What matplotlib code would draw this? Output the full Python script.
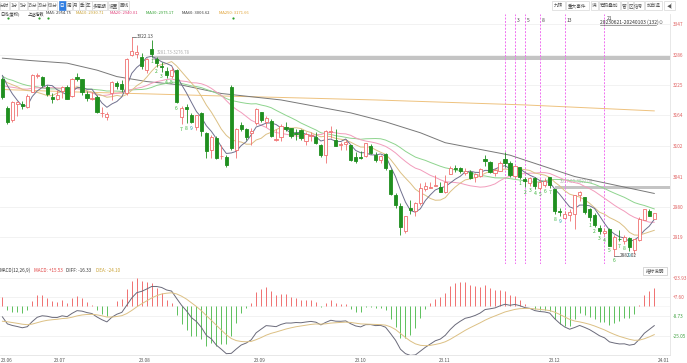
import matplotlib
matplotlib.use("Agg")
import matplotlib.pyplot as plt
from matplotlib.patches import Rectangle
import numpy as np
import pandas as pd

# ---- data (上证指数 daily, 2023-06-21 .. 2024-01-03) ----
opens = [3238, 3179, 3155, 3186, 3187, 3180, 3210, 3243, 3241, 3222,
         3201, 3197, 3212, 3221, 3202, 3242, 3237, 3207, 3197, 3200,
         3168, 3160, 3208, 3230, 3228, 3209, 3285, 3287, 3282, 3256,
         3297, 3277, 3264, 3253, 3244, 3255, 3160, 3181, 3165, 3140,
         3168, 3128, 3094, 3118, 3082, 3081, 3221, 3094, 3145, 3136,
         3128, 3148, 3170, 3150, 3153, 3115, 3121, 3140, 3139, 3129,
         3135, 3112, 3122, 3120, 3104, 3084, 3131, 3114, 3104, 3107,
         3104, 3080, 3080, 3083, 3103, 3085, 3075, 3087, 3055, 3003,
         2981, 2932, 2977, 2972, 2987, 3016, 3017, 3022, 3020, 3010,
         3046, 3058, 3059, 3048, 3050, 3040, 3043, 3076, 3070, 3049,
         3053, 3077, 3068, 3042, 3060, 3036, 3028, 3039, 3017, 3023,
         3040, 3016, 2972, 2958, 2964, 2966, 3003, 3000, 2975, 2964,
         2938, 2928, 2935, 2895, 2916, 2911, 2917, 2893, 2914, 2953,
         2972, 2956]
highs = [3242, 3183, 3192, 3192, 3192, 3206, 3247, 3249, 3244, 3226,
         3208, 3215, 3224, 3226, 3240, 3250, 3238, 3213, 3210, 3204,
         3180, 3170, 3234, 3234, 3236, 3280, 3322.13, 3305, 3290, 3280,
         3315, 3282, 3272, 3262, 3262, 3258, 3183, 3187, 3168, 3165,
         3170, 3130, 3124, 3122, 3104, 3084, 3225, 3138, 3150, 3139,
         3138, 3178, 3171, 3162, 3157, 3136, 3146, 3151, 3139, 3136,
         3136, 3130, 3130, 3131, 3106, 3134, 3143, 3137, 3110, 3114,
         3105, 3091, 3093, 3108, 3106, 3090, 3085, 3088, 3057, 3007,
         2987, 2962, 2993, 2989, 3028, 3031, 3030, 3045, 3031, 3044,
         3062, 3064, 3061, 3059, 3054, 3048, 3058, 3084, 3072, 3059,
         3072, 3090, 3072, 3065, 3061, 3040, 3040, 3041, 3037, 3038,
         3040, 3016, 2978, 2971, 2976, 3004, 3012, 3000, 2977, 2967,
         2944, 2938, 2937, 2923, 2933, 2924, 2919, 2916, 2960, 2976,
         2976, 2968]
lows = [3196, 3146, 3150, 3162, 3177, 3178, 3210, 3240, 3222, 3203,
        3189, 3195, 3199, 3196, 3200, 3234, 3205, 3192, 3195, 3169,
        3161, 3154, 3195, 3217, 3210, 3205, 3283, 3280, 3258, 3250,
        3281.73, 3261, 3251, 3240, 3240, 3188, 3146, 3148, 3148, 3134,
        3122, 3078, 3078, 3076, 3077, 3060, 3095, 3078, 3132, 3115,
        3105, 3145, 3150, 3141, 3121, 3113, 3112, 3133, 3119, 3115,
        3114, 3104, 3112, 3107, 3080, 3068, 3118, 3102, 3095, 3095,
        3072, 3068, 3076, 3081, 3086, 3070, 3068, 3055, 3003, 2977,
        2923, 2927, 2966, 2962, 2983, 3011, 3017, 3021, 3009, 3007,
        3046, 3051, 3048, 3045, 3037, 3030, 3041, 3063, 3048, 3043,
        3053, 3060, 3041, 3038, 3037, 3019, 3022, 3016, 3014, 3020,
        3018, 2965, 2961, 2957, 2951, 2936, 2992, 2966, 2952, 2940,
        2926, 2923, 2902, 2882.02, 2911, 2906, 2891, 2886, 2911, 2953,
        2961, 2955]
closes = [3200, 3151, 3190, 3190, 3183, 3202, 3245, 3246, 3225, 3206,
          3197, 3204, 3221, 3197, 3238, 3238, 3210, 3198, 3199, 3170,
          3168, 3166, 3232, 3223, 3217, 3277, 3294, 3291, 3263, 3278,
          3288, 3269, 3261, 3245, 3256, 3190, 3178, 3176, 3150, 3164,
          3132, 3093, 3120, 3078, 3082, 3064, 3098, 3136, 3137, 3120,
          3133, 3177, 3154, 3158, 3122, 3117, 3143, 3137, 3123, 3127,
          3118, 3126, 3124, 3109, 3085, 3132, 3131, 3102, 3107, 3110,
          3075, 3073, 3079, 3108, 3088, 3074, 3083, 3059, 3005, 2983,
          2939, 2962, 2974, 2988, 3018, 3022, 3019, 3023, 3009, 3031,
          3058, 3057, 3052, 3053, 3039, 3046, 3056, 3073, 3051, 3054,
          3068, 3068, 3044, 3062, 3041, 3032, 3039, 3022, 3030, 3032,
          3023, 2972, 2969, 2966, 2970, 3004, 3009, 2969, 2959, 2943,
          2931, 2932, 2902, 2919, 2915, 2919, 2899, 2915, 2955, 2975,
          2962, 2967]
# closes before the window, only used to warm up the moving averages / MACD
prev_closes = [3319, 3310, 3272, 3311, 3291, 3284, 3297, 3284, 3296, 3246,
               3205, 3201, 3212, 3221, 3224, 3205, 3205, 3230, 3232, 3195,
               3198, 3214, 3231, 3229, 3234, 3229, 3253, 3273, 3256, 3240]

# long averages (candle index, value)
ma60_idx = [0, 6, 13, 19, 23, 29, 36, 44, 56, 70, 77, 84, 89, 102, 115, 131]
ma60_val = [3279, 3274, 3269, 3255, 3242, 3232, 3225, 3208, 3195, 3169,
            3151, 3129, 3109, 3084, 3041, 3007]
ma250_idx = [0, 15, 30, 44, 60, 75, 90, 105, 118, 131]
ma250_val = [3216, 3211, 3207, 3203, 3199, 3195, 3190, 3185, 3179, 3173]

price_ticks = [3347, 3286, 3225, 3164, 3102, 3041, 2980, 2919]
macd_ticks = [23.93, 7.60, -8.73, -25.05]
macd_labels = ['+23.93', '+7.60', '-8.73', '-25.05']
month_labels = ['23.06', '23.07', '23.08', '23.09', '23.10', '23.11', '23.12', '24.01']
month_px = [7, 60, 145, 260, 361, 445, 555, 664]

gaps = [(30, 3276.78, 3281.73, '3281.73-3276.78'),
        (111, 3017.0, 3022.0, '3017.00-3022.00')]
td_starts = [30, 104, 118]
fib_base = 101
fib_nums = [3, 5, 8, 13, 21]

legend_items = [('日线(复权)', '#333333'), ('上证指数', '#333333'),
                ('MA5: 2954.75', '#333333'), ('MA10: 2930.71', '#c8a030'),
                ('MA20: 2940.01', '#e0407a'), ('MA30: 2975.17', '#30a030'),
                ('MA60: 3006.62', '#333333'), ('MA250: 3171.66', '#e0a030')]
legend_px = [0, 28, 46, 76, 110, 146, 182, 219]

# ---- style ----
plt.rcParams['font.family'] = ['Noto Sans CJK SC', 'DejaVu Sans']
UP = '#f07070'
DOWN = '#1f8f1f'
W, H = 687, 363
X0, DX = 2.4, 4.976          # pixel of candle 0, pixels per candle


def px2idx(x):
    return (x - X0) / DX


def px2price(y):
    return 3286 - (y - 54.7) * 2.011


def px2macd(y):
    return 23.93 - (y - 277.7) / 1.184


n = len(closes)
idx = np.arange(n)
allc = pd.Series(prev_closes + closes, dtype=float)
mas = {}
for p in [5, 10, 20, 30]:
    mas[p] = allc.rolling(p).mean().values[-n:]
ema12 = allc.ewm(span=12, adjust=False).mean()
ema26 = allc.ewm(span=26, adjust=False).mean()
diff = (ema12 - ema26)
dea = diff.ewm(span=9, adjust=False).mean()
diff = diff.values[-n:]
dea = dea.values[-n:]
macd = 2 * (diff - dea)

fig = plt.figure(figsize=(W / 100, H / 100), dpi=100)
right = 670 / W
ax = fig.add_axes([0, 1 - 264 / H, right, (264 - 14) / H])
ax2 = fig.add_axes([0, 1 - 355 / H, right, (355 - 264) / H])

xl = (px2idx(0), px2idx(670))
ax.set_xlim(*xl)
ax.set_ylim(px2price(264), px2price(14))
ax2.set_xlim(*xl)
ax2.set_ylim(px2macd(355), px2macd(264))

for a in (ax, ax2):
    for s in ['top', 'left', 'bottom']:
        a.spines[s].set_visible(False)
    a.spines['right'].set_color('#e4e4e4')
    a.spines['right'].set_linewidth(0.6)
    a.set_xticks([])
    a.yaxis.tick_right()
    a.tick_params(axis='y', length=0, labelsize=3.4, pad=1.8)
ax2.spines['bottom'].set_visible(True)
ax2.spines['bottom'].set_color('#e4e4e4')
ax2.spines['bottom'].set_linewidth(0.6)

ax.set_yticks(price_ticks)
ax.set_yticklabels([str(t) for t in price_ticks], color='#e06060')
for t in price_ticks:
    ax.axhline(t, color='#f0f0f0', lw=0.6, zorder=0)

ax2.set_yticks(macd_ticks)
ax2.set_yticklabels(macd_labels)
for lab, t in zip(ax2.get_yticklabels(), macd_ticks):
    lab.set_color('#e06060' if t > 0 else '#40a040')
for t in macd_ticks:
    ax2.axhline(t, color='#f0f0f0', lw=0.6, zorder=0)

# gaps
for start, lo, hi, txt in gaps:
    ax.fill_between([start, xl[1]], lo - 0.8, hi + 0.8, color='#c4c4c4', lw=0, zorder=1)
    ax.text(start + 1, hi + 3, txt, fontsize=3.2, color='#b0b0b0', va='bottom', zorder=1)

# fibonacci time zones
fib_offsets = [0] + [f - 1 for f in fib_nums]
for k, off in enumerate(fib_offsets):
    ax.axvline(fib_base + off, color='#f070f0', lw=0.7, ls=(0, (2, 1.5)), zorder=1)
    if k > 0:
        ty = 18 if fib_nums[k - 1] == 21 else 20
        ax.text(fib_base + off + 0.4, px2price(ty), str(fib_nums[k - 1]), fontsize=3.6,
                color='#444444', va='center', ha='left')

# moving averages
ax.plot(ma250_idx, ma250_val, color='#eec27e', lw=0.7, zorder=2)
ax.plot(ma60_idx, ma60_val, color='#787878', lw=0.7, zorder=2)
ax.plot(idx, mas[30], color='#8ed48e', lw=0.7, zorder=2)
ax.plot(idx, mas[20], color='#f29cbc', lw=0.7, zorder=2)
ax.plot(idx, mas[10], color='#dcc084', lw=0.7, zorder=2)
ax.plot(idx, mas[5], color='#70708e', lw=0.7, zorder=2)

# candles
for i in range(n):
    o, h, l, c = opens[i], highs[i], lows[i], closes[i]
    up = c >= o
    col = UP if up else DOWN
    ax.vlines(i, l, h, color=col, lw=0.6, zorder=3)
    b0, bh = min(o, c), max(abs(c - o), 0.8)
    ax.add_patch(Rectangle((i - 0.32, b0), 0.64, bh, facecolor='white' if up else DOWN,
                           edgecolor=col, lw=0.6, zorder=4))

# high / low marks
hi_i = int(np.argmax(highs))
lo_i = int(np.argmin(lows))
ax.plot([hi_i, hi_i + 0.9], [highs[hi_i]] * 2, color='#555555', lw=0.5, zorder=5)
ax.text(hi_i + 1.0, highs[hi_i], f'{highs[hi_i]:.2f}', fontsize=3.4, color='#444444',
        va='center', zorder=5)
ax.plot([lo_i, lo_i + 0.9], [lows[lo_i]] * 2, color='#555555', lw=0.5, zorder=5)
ax.text(lo_i + 1.0, lows[lo_i], f'{lows[lo_i]:.2f}', fontsize=3.4, color='#444444',
        va='center', zorder=5)

# TD sequential counts
for s in td_starts:
    for k in range(9):
        j = s + k
        ax.annotate(str(k + 1), (j, lows[j]), xytext=(0, -3.5), textcoords='offset points',
                    fontsize=3.6, ha='center', va='center',
                    color='#20a0b0' if k == 8 else '#3cb43c', zorder=5)

# MACD panel
ax2.axhline(0, color='#f4f4f4', lw=0.5, zorder=0)
ax2.vlines(idx, 0, macd, colors=[UP if v >= 0 else '#5cc05c' for v in macd], lw=0.7, zorder=2)
ax2.plot(idx, diff, color='#6a6a7a', lw=0.7, zorder=3)
ax2.plot(idx, dea, color='#dcc084', lw=0.7, zorder=3)

# overlay in pixel coordinates
ov = fig.add_axes([0, 0, 1, 1], zorder=10)
ov.set_xlim(0, W)
ov.set_ylim(H, 0)
ov.axis('off')
ov.patch.set_alpha(0)

tool_left = [('分时', 0, 9), ('1分', 10, 18), ('5分', 19, 27), ('15分', 28, 37),
             ('30分', 38, 47), ('60分', 48, 57), ('日', 58.5, 65.5), ('周', 66, 72),
             ('月', 72.5, 78.5), ('季', 79, 85), ('年', 85.5, 91.5), ('多周期', 92, 107),
             ('设置', 108, 118), ('画线', 119, 129)]
tool_right = [('九转', 552, 565), ('重大事件', 566, 589), ('满', 591, 598),
              ('筹码叠加', 599, 620), ('管', 621, 627), ('区', 628, 633),
              ('信号', 634, 644), ('加自选', 645, 662), ('◀|', 664, 675)]
for lab, x0, x1 in tool_left + tool_right:
    sel = lab == '日'
    ov.add_patch(Rectangle((x0, 1), x1 - x0, 9, facecolor='#2f7de1' if sel else 'white',
                           edgecolor='#2f7de1' if sel else '#d8d8d8', lw=0.5))
    ov.text((x0 + x1) / 2, 5.6, lab, fontsize=3.3, ha='center', va='center',
            color='white' if sel else '#555555')

for (txt, col), x in zip(legend_items, legend_px):
    ov.text(x, 13.5, txt, fontsize=3.0, color=col, ha='left', va='center')

for x in [8, 39, 48, 233]:
    ov.plot(x, 18, 'o', ms=1.6, color='#2aa02a', mec='none')

ov.text(600, 22, '20230621-20240103 (132)', fontsize=3.6, color='#333333', va='center')
ov.plot([600, 656], [24.5, 24.5], color='#555555', lw=0.4)
ov.text(659, 22, '⊙', fontsize=3.4, color='#777777', va='center', family='DejaVu Sans')

ov.text(0, 270.5, 'MACD(12,26,9)', fontsize=3.3, color='#333333', va='center')
ov.text(34, 270.5, 'MACD: +15.53', fontsize=3.3, color='#e04040', va='center')
ov.text(66, 270.5, 'DIFF: -16.33', fontsize=3.3, color='#333333', va='center')
ov.text(96, 270.5, 'DEA: -24.10', fontsize=3.3, color='#c8a030', va='center')
ov.add_patch(Rectangle((643, 267), 24, 7.5, facecolor='white', edgecolor='#c8c8c8', lw=0.5))
ov.text(655, 270.8, '指标说明', fontsize=3.3, color='#555555', ha='center', va='center')

for lab, x in zip(month_labels, month_px):
    ov.text(x, 360, lab, fontsize=3.4, color='#555555', ha='center', va='center')

fig.savefig('out.png', dpi=100, facecolor='white')
